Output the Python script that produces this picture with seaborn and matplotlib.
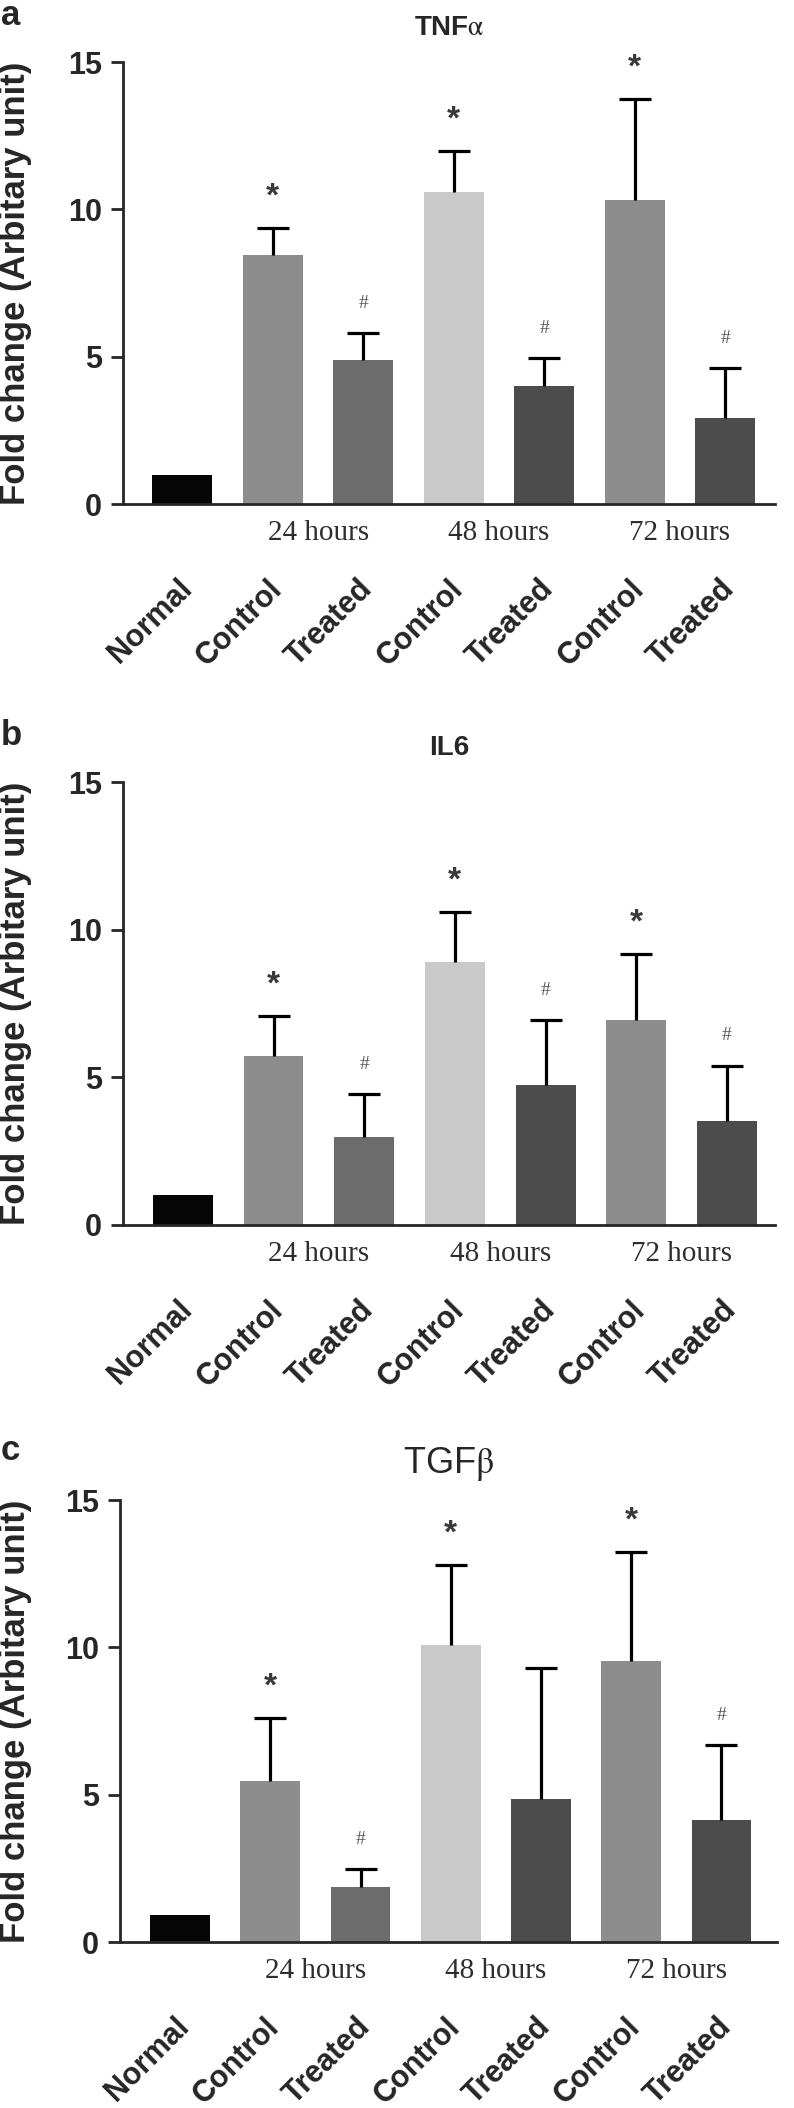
import numpy as np
import pandas as pd
import matplotlib
matplotlib.use("Agg")
import matplotlib.pyplot as plt
import matplotlib.transforms as mtransforms
import seaborn as sns

# ---------------- data ----------------
bar_keys = ["Normal", "Control 24h", "Treated 24h", "Control 48h", "Treated 48h", "Control 72h", "Treated 72h"]
bar_labels = ["Normal", "Control", "Treated", "Control", "Treated", "Control", "Treated"]
time_groups = ["24 hours", "48 hours", "72 hours"]
bar_colors = ["#050505", "#8d8d8d", "#6c6c6c", "#c9c9c9", "#4c4c4c", "#8d8d8d", "#4c4c4c"]

tnfa_mean = [1.0, 8.44, 4.87, 10.59, 4.00, 10.31, 2.92]
tnfa_sd = [0.0, 0.91, 0.95, 1.39, 0.96, 3.42, 1.68]
tnfa_sig = ["", "*", "#", "*", "#", "*", "#"]

il6_mean = [1.0, 5.72, 2.99, 8.89, 4.75, 6.93, 3.51]
il6_sd = [0.0, 1.36, 1.46, 1.70, 2.19, 2.26, 1.89]
il6_sig = ["", "*", "#", "*", "#", "*", "#"]

tgfb_mean = [0.92, 5.48, 1.87, 10.08, 4.85, 9.54, 4.14]
tgfb_sd = [0.0, 2.11, 0.61, 2.70, 4.46, 3.68, 2.53]
tgfb_sig = ["", "*", "#", "*", "", "*", "#"]

panels = [
    dict(letter="a", title=r"TNF$\mathrm{\alpha}$", tweight="bold", tsize=20, mean=tnfa_mean, sd=tnfa_sd, sig=tnfa_sig),
    dict(letter="b", title="IL6", tweight="bold", tsize=20, mean=il6_mean, sd=il6_sd, sig=il6_sig),
    dict(letter="c", title=r"TGF$\mathrm{\beta}$", tweight="normal", tsize=26, mean=tgfb_mean, sd=tgfb_sd, sig=tgfb_sig),
]

# ---------------- style ----------------
sns.set_style("ticks")
plt.rcParams["font.family"] = ["Liberation Sans", "DejaVu Sans"]
plt.rcParams["mathtext.fontset"] = "stix"
plt.rcParams["axes.linewidth"] = 2.0

W, H = 794, 2108
fig = plt.figure(figsize=(W / 100, H / 100), dpi=100)

# axes boxes in pixels: left, top(y=15), right, bottom(y=0)
boxes = [(123, 62, 775, 504), (123, 782, 775, 1225), (120, 1500, 777, 1942)]
xlims = [(-0.656, 6.55), (-0.66, 6.53), (-0.665, 6.615)]
letter_base = [25, 745, 1460]

for p, (l, t, r, b), xl, lb in zip(panels, boxes, xlims, letter_base):
    ax = fig.add_axes([l / W, (H - b) / H, (r - l) / W, (b - t) / H])
    df = pd.DataFrame({"key": bar_keys, "value": p["mean"]})
    sns.barplot(data=df, x="key", y="value", hue="key", palette=bar_colors,
                order=bar_keys, hue_order=bar_keys, width=0.66, saturation=1,
                errorbar=None, legend=False, linewidth=0, ax=ax, zorder=2)
    x = np.arange(len(bar_keys))
    mean = np.array(p["mean"])
    sd = np.array(p["sd"])
    m = sd > 0
    eb = ax.errorbar(x[m], mean[m], yerr=[np.zeros(m.sum()), sd[m]], fmt="none",
                     ecolor="black", elinewidth=2.3, capsize=11.5, capthick=2.3, zorder=3)
    eb[1][0].set_visible(False)

    for xi, mu, s, mark in zip(x, mean, sd, p["sig"]):
        if mark == "*":
            ax.text(xi, mu + s + 1.05, "*", ha="center", va="center", fontsize=24,
                    fontweight="bold", color="#3a3a3a")
        elif mark == "#":
            ax.text(xi, mu + s + 1.0, "#", ha="center", va="center", fontsize=14,
                    family="Liberation Serif", color="#555555")

    ax.set_ylim(0, 15)
    ax.set_xlim(*xl)
    ax.set_yticks([0, 5, 10, 15])
    ax.set_yticklabels(["0", "5", "10", "15"], fontsize=22, fontweight="bold")
    ax.tick_params(axis="y", length=9, width=2.0, pad=6)
    ax.set_xticks(x)
    ax.set_xticklabels(bar_labels, fontsize=22, fontweight="bold", rotation=45,
                       ha="right", va="center", rotation_mode="anchor")
    ax.tick_params(axis="x", length=0, pad=58)
    off = mtransforms.ScaledTranslation(5 / 100, 0, fig.dpi_scale_trans)
    for lab in ax.get_xticklabels():
        lab.set_transform(lab.get_transform() + off)
    ax.set_xlabel("")
    ax.set_ylabel("Fold change (Arbitary unit)", fontsize=25, fontweight="bold")
    ax.yaxis.set_label_coords((32 - l) / (r - l), 0.5)
    sns.despine(ax=ax)

    trans = mtransforms.blended_transform_factory(ax.transData, ax.transAxes)
    for gi, g in enumerate(time_groups):
        ax.text(1.5 + 2 * gi, -29 / (b - t), g, transform=trans, ha="center", va="center",
                fontsize=21, family="Liberation Serif", color="#2e2e2e")

    ax.text(0.5, 1 + 27 / (b - t), p["title"], transform=ax.transAxes, ha="center",
            va="baseline", fontsize=p["tsize"], fontweight=p["tweight"])
    fig.text(1 / W, 1 - lb / H, p["letter"], ha="left", va="baseline", fontsize=25,
             fontweight="bold")

fig.savefig("out.png", dpi=100)
